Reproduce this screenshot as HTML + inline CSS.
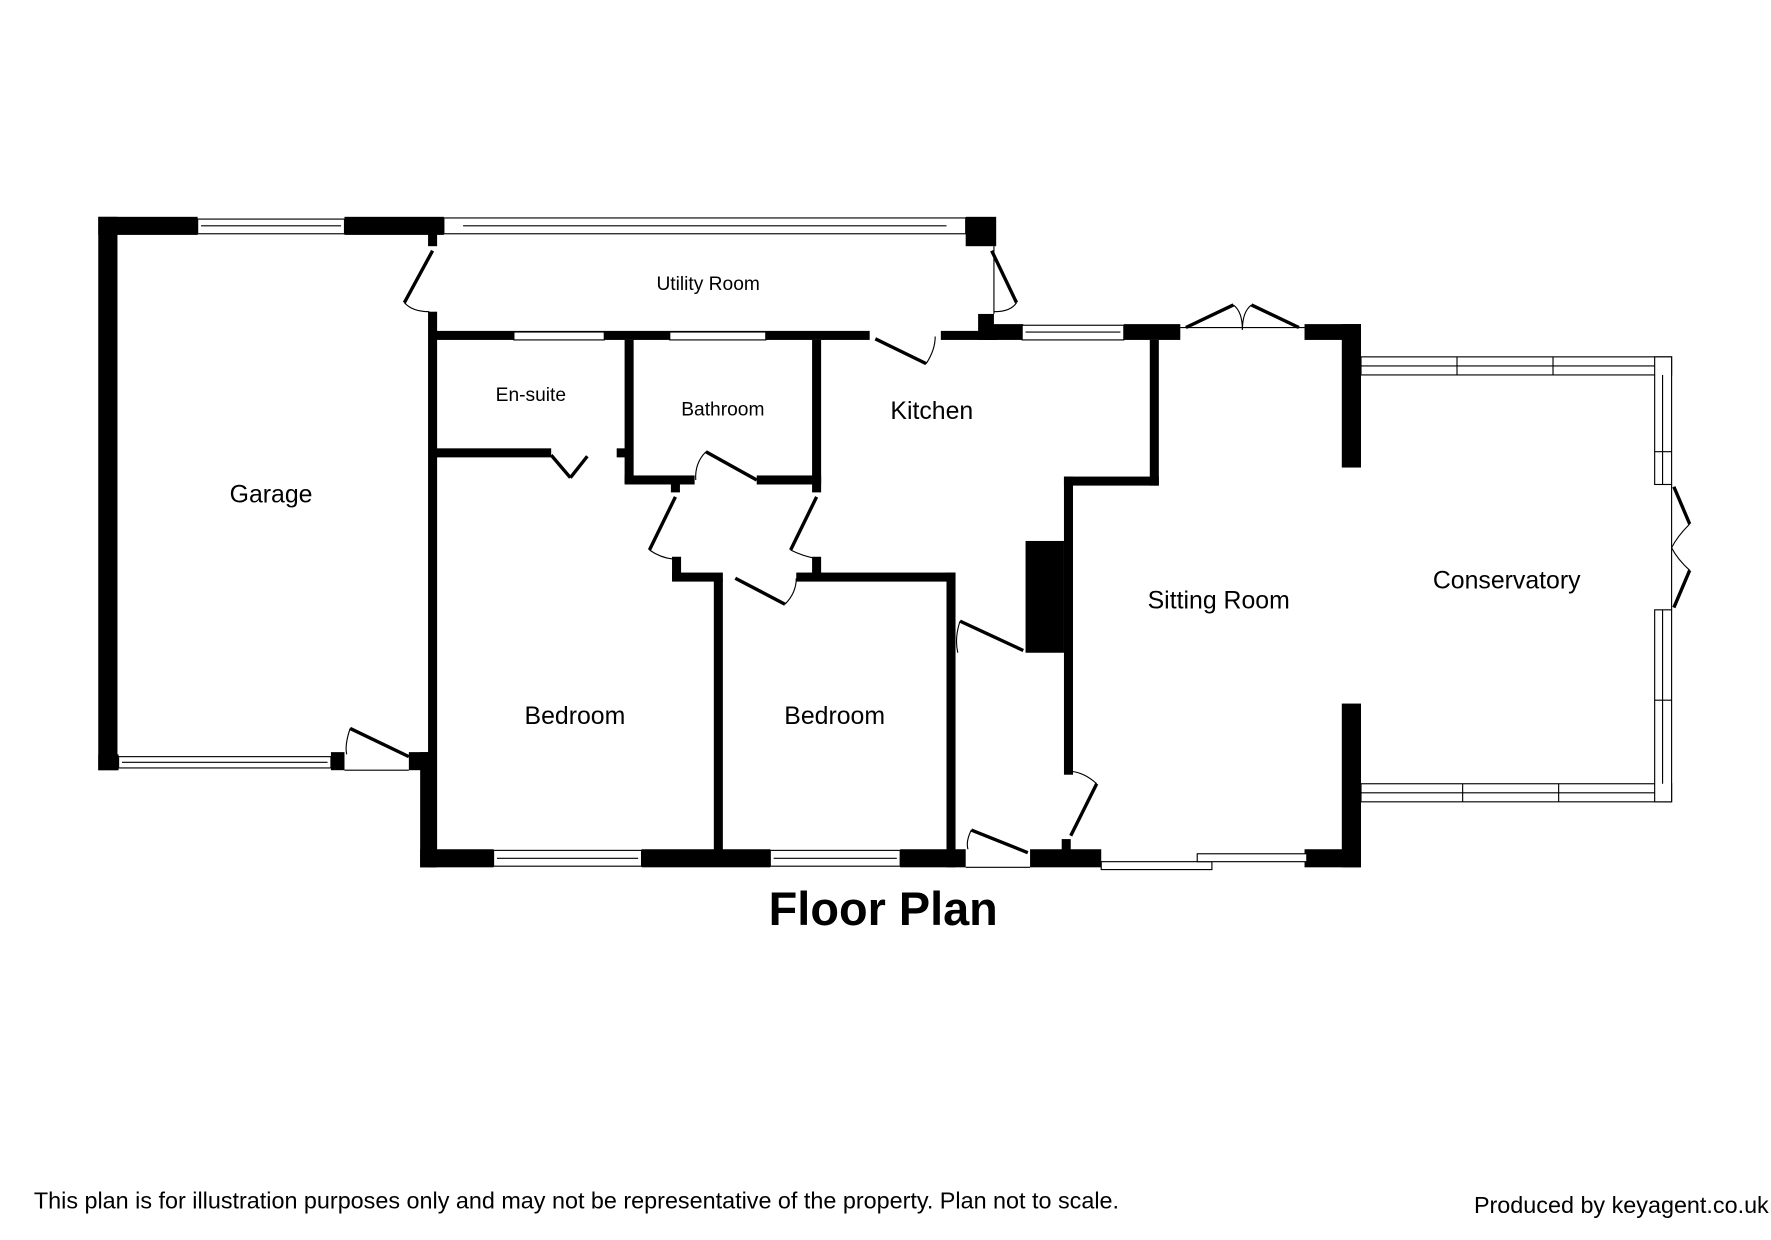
<!DOCTYPE html>
<html><head><style>html,body{margin:0;padding:0;background:#fff}svg{display:block}</style></head>
<body>
<svg width="1771" height="1240" viewBox="0 0 1568 1098" preserveAspectRatio="none" xmlns="http://www.w3.org/2000/svg" font-family="Liberation Sans, Arial, sans-serif">
<rect width="1568" height="1098" fill="#fff"/>
<g fill="#000">
<rect x="87" y="192" width="88" height="16"/><rect x="305" y="192" width="88" height="16"/>
<rect x="87" y="192" width="17" height="490"/>
<rect x="87" y="668" width="18" height="14"/><rect x="293" y="666" width="12" height="16"/>
<rect x="362" y="666" width="24" height="16"/><rect x="372" y="666" width="14" height="102"/>
<rect x="379" y="276" width="8" height="492"/><rect x="379" y="204" width="8" height="14"/>
<rect x="855" y="192" width="27" height="26"/>
<rect x="386" y="293" width="384" height="8"/><rect x="833" y="293" width="50" height="8"/>
<rect x="866" y="278" width="14" height="23"/><rect x="876" y="287" width="30" height="14"/>
<rect x="995" y="287" width="50" height="14"/><rect x="1155" y="287" width="50" height="14"/>
<rect x="1188" y="287" width="17" height="127"/>
<rect x="1018" y="301" width="8" height="129"/><rect x="942" y="422" width="84" height="8"/>
<rect x="942" y="422" width="8" height="264"/><rect x="908" y="479" width="34" height="99"/>
<rect x="940" y="743" width="8" height="12"/>
<rect x="1188" y="623" width="17" height="145"/>
<rect x="912" y="752" width="63" height="16"/><rect x="1155" y="752" width="50" height="16"/>
<rect x="372" y="752" width="65" height="16"/><rect x="568" y="752" width="114" height="16"/><rect x="797" y="752" width="58" height="16"/>
<rect x="632" y="513" width="8" height="240"/><rect x="595" y="507" width="45" height="8"/><rect x="595" y="493" width="8" height="20"/>
<rect x="705" y="507" width="141" height="8"/><rect x="719" y="493" width="8" height="20"/><rect x="838" y="507" width="8" height="261"/>
<rect x="386" y="397" width="102" height="8"/><rect x="546" y="397" width="8" height="8"/>
<rect x="553" y="301" width="8" height="127"/><rect x="553" y="421" width="62" height="8"/><rect x="670" y="421" width="57" height="8"/>
<rect x="719" y="301" width="8" height="135"/><rect x="594" y="428" width="8" height="8"/>
</g>
<g fill="#fff" stroke="#000" stroke-width="1">
<rect x="175" y="194" width="130" height="13"/><line x1="178" y1="200" x2="302" y2="200"/>
<rect x="393" y="193" width="462" height="14"/><line x1="410" y1="200" x2="838" y2="200"/>
<rect x="105" y="670" width="188" height="10"/><line x1="108" y1="675" x2="290" y2="675"/>
<rect x="455" y="294" width="80" height="7"/><rect x="593" y="294" width="85" height="7"/>
<rect x="905" y="288" width="90" height="13"/><line x1="908" y1="294" x2="992" y2="294"/>
<rect x="437" y="753" width="131" height="14"/><line x1="440" y1="760" x2="565" y2="760"/>
<rect x="682" y="753" width="115" height="14"/><line x1="685" y1="760" x2="794" y2="760"/>
<rect x="975" y="763" width="98" height="7"/><rect x="1060" y="756" width="97" height="7"/>
<rect x="1205" y="316" width="275" height="16"/><rect x="1205" y="694" width="275" height="16"/>
<rect x="1465" y="316" width="15" height="113"/><rect x="1465" y="540" width="15" height="170"/>
</g>
<g stroke="#000" stroke-width="1" fill="none">
<line x1="1205" y1="324" x2="1465" y2="324"/><line x1="1205" y1="702" x2="1465" y2="702"/>
<line x1="1472" y1="332" x2="1472" y2="429"/><line x1="1472" y1="540" x2="1472" y2="694"/>
<line x1="1290" y1="316" x2="1290" y2="332"/><line x1="1375" y1="316" x2="1375" y2="332"/>
<line x1="1295" y1="694" x2="1295" y2="710"/><line x1="1380" y1="694" x2="1380" y2="710"/>
<line x1="1465" y1="400" x2="1480" y2="400"/><line x1="1465" y1="620" x2="1480" y2="620"/>
<line x1="305" y1="682" x2="362" y2="682"/><line x1="855" y1="768" x2="912" y2="768"/>
<line x1="1045" y1="290" x2="1155" y2="290"/><line x1="880" y1="218" x2="880" y2="278"/>
<line x1="1480" y1="429" x2="1480" y2="540"/>
</g>
<g stroke="#000" stroke-width="3" fill="none">
<line x1="383" y1="222" x2="358" y2="268"/><line x1="878" y1="222" x2="900" y2="268"/>
<line x1="775" y1="300" x2="820" y2="322"/><line x1="488" y1="403" x2="505" y2="423"/><line x1="505" y1="423" x2="520" y2="404"/>
<line x1="625" y1="400" x2="670" y2="425"/><line x1="598" y1="440" x2="575" y2="487"/><line x1="723" y1="440" x2="700" y2="487"/>
<line x1="651" y1="512" x2="695" y2="535"/><line x1="850" y1="550" x2="906" y2="576"/>
<line x1="310" y1="645" x2="362" y2="670"/><line x1="971" y1="694" x2="948" y2="740"/><line x1="860" y1="735" x2="910" y2="755"/>
<line x1="1050" y1="290" x2="1092" y2="270"/><line x1="1150" y1="290" x2="1108" y2="270"/>
<line x1="1482" y1="431" x2="1496" y2="464"/><line x1="1482" y1="538" x2="1496" y2="505"/>
</g>
<g stroke="#000" stroke-width="1" fill="none">
<path d="M358 268 Q365 276 380 276"/><path d="M900 268 Q895 276 880 276"/><path d="M820 322 Q828 310 828 298"/>
<path d="M625 400 Q615 410 616 425"/><path d="M575 487 Q585 494 596 495"/><path d="M700 487 Q710 492 720 494"/>
<path d="M695 535 Q705 525 705 512"/><path d="M850 550 Q845 565 848 578"/><path d="M310 645 Q305 660 307 668"/>
<path d="M948 683 Q960 684 971 694"/><path d="M860 735 Q855 745 857 752"/>
<path d="M1092 270 Q1100 276 1100 292"/><path d="M1108 270 Q1100 276 1100 292"/>
<path d="M1496 464 Q1485 475 1480 485"/><path d="M1496 505 Q1485 495 1480 485"/>
</g>
<g fill="#000" text-anchor="middle">
<text x="627" y="257" font-size="17">Utility Room</text>
<text x="470" y="355" font-size="17">En-suite</text>
<text x="640" y="368" font-size="17">Bathroom</text>
<text x="825" y="371" font-size="22">Kitchen</text>
<text x="240" y="445" font-size="22">Garage</text>
<text x="1079" y="539" font-size="22">Sitting Room</text>
<text x="1334" y="521" font-size="22">Conservatory</text>
<text x="509" y="641" font-size="22">Bedroom</text>
<text x="739" y="641" font-size="22">Bedroom</text>
<text x="782" y="819" font-size="41.5" font-weight="bold">Floor Plan</text>
</g>
<text x="30" y="1070" font-size="20.7">This plan is for illustration purposes only and may not be representative of the property. Plan not to scale.</text>
<text x="1305" y="1074" font-size="20.7">Produced by keyagent.co.uk</text>
</svg>
</body></html>
